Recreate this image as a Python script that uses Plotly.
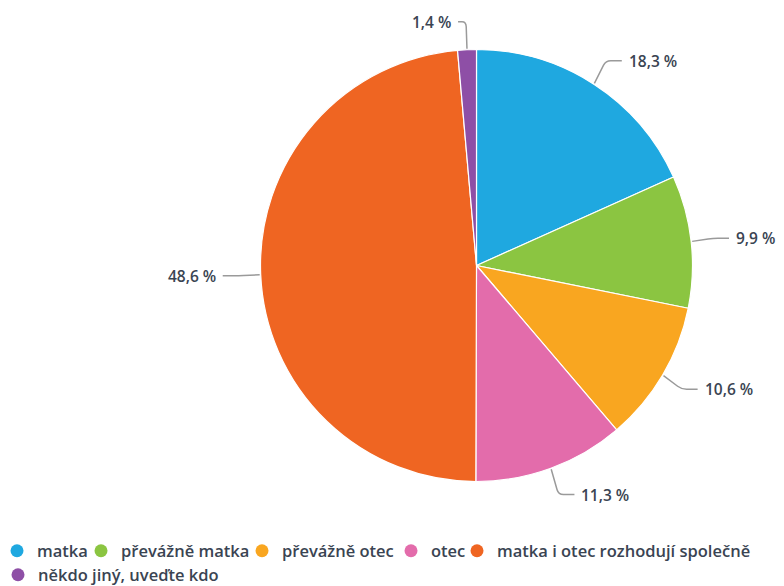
import math
import plotly.graph_objects as go

# ---- data ----
categories = ["matka", "převážně matka", "převážně otec", "otec",
              "matka i otec rozhodují společně", "někdo jiný, uveďte kdo"]
values = [18.3, 9.9, 10.6, 11.3, 48.6, 1.4]
colors = ["#1FA8E0", "#8BC541", "#F9A620", "#E36CAB", "#EF6522", "#8E4FA6"]

# ---- layout constants (pixels) ----
W, H = 784, 586
cx, cy, r = 476.5, 265.5, 216.0
# legend entry positions: (symbol centre x, row centre y)
legend_pos = [(17, 551), (101, 551), (262, 551), (411, 551), (477, 551), (18, 575)]
TEXT = "#3A4452"

fig = go.Figure()
fig.add_trace(go.Pie(
    labels=categories, values=values, sort=False, direction="clockwise",
    rotation=0, textinfo="none", showlegend=False, hoverinfo="label+percent",
    marker=dict(colors=colors, line=dict(color="white", width=1.2)),
    domain=dict(x=[(cx - r) / W, (cx + r) / W], y=[1 - (cy + r) / H, 1 - (cy - r) / H]),
))

legend_font = dict(family="Open Sans", size=16.5, color=TEXT, weight=600)
legends = {}
for i, (c, col) in enumerate(zip(categories, colors)):
    key = "legend" if i == 0 else f"legend{i + 1}"
    fig.add_trace(go.Scatter(x=[None], y=[None], mode="markers", name=c,
                             legend=key,
                             marker=dict(symbol="circle", size=13, color=col)))
    lx, ly = legend_pos[i]
    legends[key] = dict(orientation="h", x=(lx - 20) / W, xanchor="left",
                        y=1 - ly / H, yanchor="middle", itemwidth=30,
                        font=legend_font, bgcolor="rgba(0,0,0,0)")

def px(x):
    return x / W

def py(y):
    return 1 - y / H

total = sum(values)
cum = 0.0
shapes, annotations = [], []
for v in values:
    th = 2 * math.pi * (cum + v / 2) / total
    cum += v
    s, c = math.sin(th), math.cos(th)
    side = 1 if s >= 0 else -1
    ex, ey = cx + (r + 1) * s, cy - (r + 1) * c
    Ly = cy - (r + 28) * c
    elx = cx + (r + 22) * s
    seg = 16 if abs(s) > 0.3 else 8
    endx = elx + side * seg
    dx, dy = elx - ex, Ly - ey
    d = math.hypot(dx, dy) or 1
    k = min(5, d * 0.4)
    ax, ay = elx - dx / d * k, Ly - dy / d * k
    bx = elx + side * min(5, seg / 2)
    path = (f"M {px(ex)} {py(ey)} L {px(ax)} {py(ay)} "
            f"Q {px(elx)} {py(Ly)} {px(bx)} {py(Ly)} L {px(endx)} {py(Ly)}")
    shapes.append(dict(type="path", xref="paper", yref="paper", path=path,
                       line=dict(color="#9A9A9A", width=1.5)))
    label = f"{v:.1f}".replace(".", ",") + " %"
    annotations.append(dict(
        x=px(endx + side * 5), y=py(Ly), xref="paper", yref="paper",
        text=label, showarrow=False,
        xanchor="left" if side > 0 else "right", yanchor="middle",
        font=dict(family="Open Sans", size=15.5, color=TEXT, weight=600),
    ))

fig.update_layout(
    width=W, height=H, margin=dict(l=0, r=0, t=0, b=0, autoexpand=False),
    paper_bgcolor="white", plot_bgcolor="white",
    xaxis=dict(visible=False), yaxis=dict(visible=False),
    shapes=shapes, annotations=annotations,
    showlegend=True,
    **legends,
)

fig.write_html("out.html", config={"displayModeBar": False},
               post_script="document.body.style.margin='0';")
